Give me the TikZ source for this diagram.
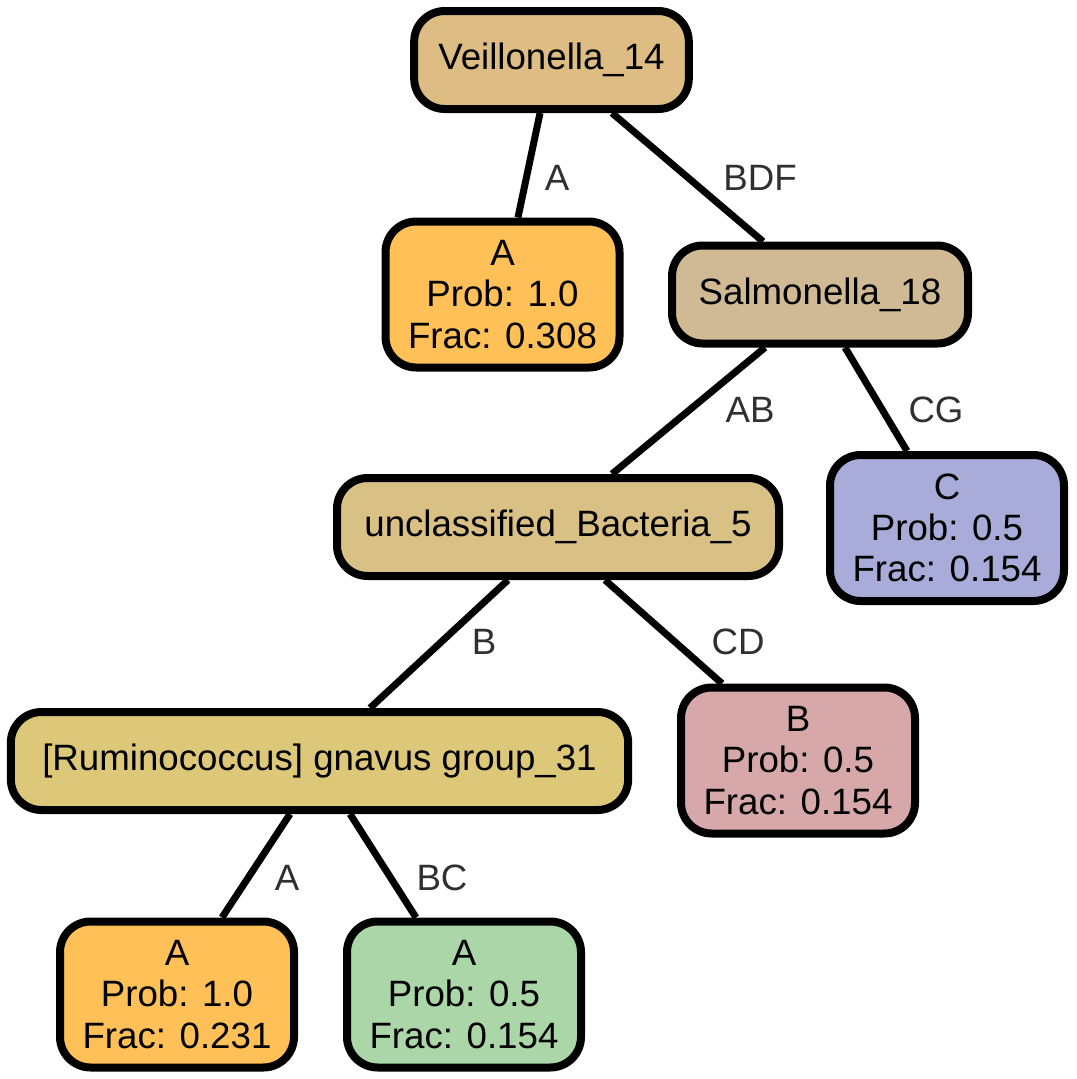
\documentclass[tikz,border=0pt]{standalone}
\usepackage{fontspec}
\setmainfont{Liberation Sans}
\definecolor{cveil}{HTML}{DDBD83}
\definecolor{corange}{HTML}{FEC057}
\definecolor{csal}{HTML}{CFBA95}
\definecolor{cunc}{HTML}{D9C085}
\definecolor{cblue}{HTML}{A9ABD8}
\definecolor{crum}{HTML}{DCC878}
\definecolor{cpink}{HTML}{D6A8A9}
\definecolor{cgreen}{HTML}{AAD6A8}
\definecolor{clabel}{HTML}{303030}
\tikzset{
  tbox/.style={draw=black, line width=6pt, rounded corners=23pt, inner sep=0pt,
    align=center, font=\fontsize{27.5}{31}\selectfont},
  leaf/.style={tbox, minimum width=175.5pt, minimum height=109.5pt},
  inner/.style={tbox, minimum height=73.5pt},
  edge/.style={line width=5.25pt},
  elabel/.style={text=clabel, font=\fontsize{27.5}{31}\selectfont, inner sep=0pt, anchor=base}
}
\begin{document}
\begin{tikzpicture}[x=0.75pt, y=-0.75pt]
\useasboundingbox (0,0) rectangle (1076,1079);
\node[inner, fill=cveil, minimum width=206pt] (veil) at (551.5,60) {Veillonella\_14};
\node[leaf, fill=corange] (a1) at (502.5,294.5) {A\\Prob: 1.0\\Frac: 0.308};
\node[inner, fill=csal, minimum width=222pt] (sal) at (820,294.5) {Salmonella\_18};
\node[inner, fill=cunc, minimum width=331.5pt] (unc) at (558,527) {unclassified\_Bacteria\_5};
\node[leaf, fill=cblue] (c) at (947,528) {C\\Prob: 0.5\\Frac: 0.154};
\node[inner, fill=crum, minimum width=463pt] (rum) at (319.5,761) {[Ruminococcus] gnavus group\_31};
\node[leaf, fill=cpink] (b) at (798,760.5) {B\\Prob: 0.5\\Frac: 0.154};
\node[leaf, fill=corange] (a2) at (177,994.5) {A\\Prob: 1.0\\Frac: 0.231};
\node[leaf, fill=cgreen] (a3) at (464,994.5) {A\\Prob: 0.5\\Frac: 0.154};

\draw[edge] ([xshift=-8.6pt]veil.south) -- ([xshift=11.6pt]a1.north);
\draw[edge] ([xshift=45.4pt]veil.south) -- ([xshift=-42.75pt]sal.north);
\draw[edge] ([xshift=-41.25pt]sal.south) -- ([xshift=40.5pt]unc.north);
\draw[edge] ([xshift=18.75pt]sal.south) -- ([xshift=-30pt]c.north);
\draw[edge] ([xshift=-37.5pt]unc.south) -- ([xshift=37.9pt]rum.north);
\draw[edge] ([xshift=35.25pt]unc.south) -- ([xshift=-57pt]b.north);
\draw[edge] ([xshift=-22.1pt]rum.south) -- ([xshift=33.75pt]a2.north);
\draw[edge] ([xshift=22.9pt]rum.south) -- ([xshift=-36pt]a3.north);

\node[elabel] (lA1) at (557,190) {A};
\node[elabel] (lBDF) at (760,190) {BDF};
\node[elabel] (lAB) at (750,422) {AB};
\node[elabel] (lCG) at (936,422) {CG};
\node[elabel] (lB) at (484,654) {B};
\node[elabel] (lCD) at (738,654) {CD};
\node[elabel] (lA2) at (287,890) {A};
\node[elabel] (lBC) at (442,890) {BC};
\end{tikzpicture}
\end{document}
